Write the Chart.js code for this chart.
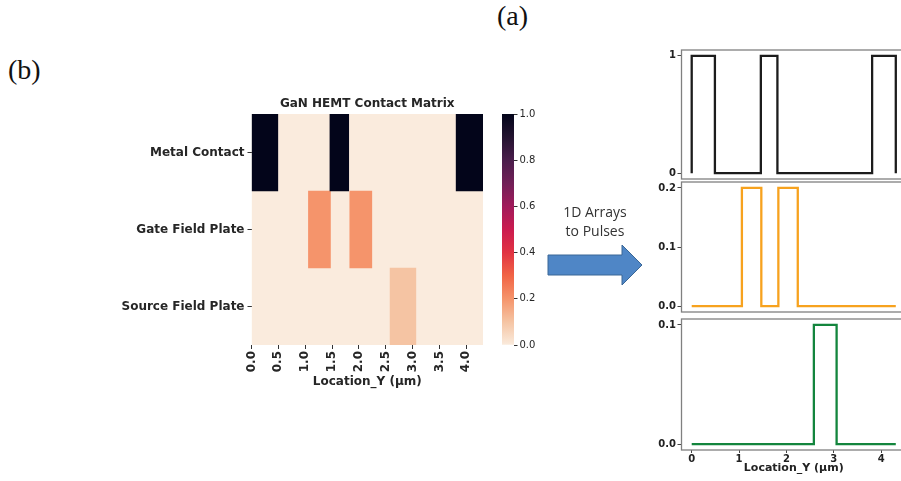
<!DOCTYPE html>
<html>
<head>
<meta charset="utf-8">
<script src="https://cdn.jsdelivr.net/npm/chart.js@4.4.0/dist/chart.umd.min.js"></script>
<style>
  body { margin: 0; background: #fff; }
  #fig { position: relative; width: 901px; height: 481px; overflow: hidden; background: #fff; }
  #fig canvas { position: absolute; }
  .panel { position: absolute; font-family: 'Liberation Serif', serif; font-size: 28px; line-height: 28px; color: #111; }
  #arrowText { position: absolute; left: 545px; top: 202px; width: 100px; text-align: center;
    font-family: 'Open Sans', sans-serif; font-size: 14px; line-height: 19px; color: #333; }
  #arrow { position: absolute; left: 0; top: 0; }
</style>
</head>
<body>
<div id="fig">
  <div class="panel" style="left:497px; top:2px">(a)</div>
  <div class="panel" style="left:8px; top:56px">(b)</div>
  <canvas id="heat" width="390" height="310" style="left:100px; top:85px"></canvas>
  <canvas id="cbar" width="42" height="251" style="left:502px; top:104px"></canvas>
  <svg id="arrow" width="901" height="481">
    <polygon points="548,255 622,255 622,245 642,265 622,285 622,275 548,275" fill="#4f86c6" stroke="#3a6796" stroke-width="1"/>
  </svg>
  <div id="arrowText">1D Arrays<br>to Pulses</div>
  <canvas id="p1" width="276" height="147" style="left:630px; top:40px"></canvas>
  <canvas id="p2" width="276" height="148" style="left:630px; top:172px"></canvas>
  <canvas id="p3" width="276" height="172" style="left:630px; top:309px"></canvas>
</div>
<script>
// rows of the contact matrix and their pulse level
const rowLabels = ['Metal Contact', 'Gate Field Plate', 'Source Field Plate'];
const rowValues = [1.0, 0.2, 0.1];

// where each layer is "on" along Location_Y (um)
const metalSpans = [[0, 0.49], [1.46, 1.81], [3.81, 4.31]];
const gateSpans = [[1.06, 1.47], [1.83, 2.24]];
const sourceSpans = [[2.58, 3.06]];
const lengthY = 4.31;

const heatTicksX = [0, 0.5, 1.0, 1.5, 2.0, 2.5, 3.0, 3.5, 4.0];
const colorbarTicks = [0, 0.2, 0.4, 0.6, 0.8, 1.0];
const pulseTicksX = [0, 1, 2, 3, 4];
const pulseTicksY = [[0, 1], [0, 0.1, 0.2], [0, 0.1]];
const pulseDecimals = [0, 1, 1];
const pulseColors = ['#1c1c1c', '#f7a21e', '#13853d'];

// rocket_r colormap (seaborn)
const rocketR = [
  [0.0, '#faebdd'], [0.1, '#f5c4a3'], [0.2, '#f5946b'], [0.3, '#f16445'],
  [0.4, '#e13342'], [0.5, '#cb1b4f'], [0.6, '#a11a5b'], [0.7, '#711f57'],
  [0.8, '#4a1d4b'], [0.9, '#231330'], [1.0, '#03051a']
];

function rocketColor(v) {
  for (let i = 1; i < rocketR.length; i++) {
    if (v <= rocketR[i][0]) {
      const [v0, c0] = rocketR[i - 1], [v1, c1] = rocketR[i];
      const t = (v - v0) / (v1 - v0);
      const a = parseInt(c0.slice(1), 16), b = parseInt(c1.slice(1), 16);
      const ch = s => Math.round(((a >> s) & 255) * (1 - t) + ((b >> s) & 255) * t);
      return `rgb(${ch(16)}, ${ch(8)}, ${ch(0)})`;
    }
  }
  return rocketR[rocketR.length - 1][1];
}

Chart.defaults.font.family = "'DejaVu Sans', sans-serif";
Chart.defaults.color = '#262626';
Chart.defaults.animation = false;
Chart.defaults.plugins.legend.display = false;
Chart.defaults.plugins.tooltip.enabled = false;

const bold12 = { size: 12, weight: 'bold' };
const layers = [metalSpans, gateSpans, sourceSpans];

// ---- heatmap ----
const heatSets = layers.map((spans, i) => ({
  data: spans.map(s => ({ y: rowLabels[i], x: s })),
  backgroundColor: rocketColor(rowValues[i])
}));
heatSets.push({
  data: rowLabels.map(r => ({ y: r, x: [0, lengthY] })),
  backgroundColor: rocketColor(0)
});
heatSets.forEach(d => Object.assign(d, { grouped: false, barPercentage: 1, categoryPercentage: 1, borderWidth: 0 }));

new Chart(document.getElementById('heat'), {
  type: 'bar',
  data: { labels: rowLabels, datasets: heatSets },
  options: {
    responsive: false,
    devicePixelRatio: 1,
    indexAxis: 'y',
    layout: { padding: { right: 7 } },
    plugins: {
      title: {
        display: true, text: 'GaN HEMT Contact Matrix', fullSize: false,
        font: bold12, color: '#262626', padding: { top: 12, bottom: 2.6 }
      }
    },
    scales: {
      y: {
        type: 'category',
        labels: rowLabels,
        grid: { offset: false, drawOnChartArea: false, tickLength: 4, color: '#333' },
        border: { display: false },
        ticks: { font: bold12, padding: 3, color: '#262626' },
        afterFit: s => { s.width = 151.5; }
      },
      x: {
        type: 'linear', min: 0, max: lengthY,
        grid: { drawOnChartArea: false, tickLength: 4, color: '#333' },
        border: { display: false },
        afterBuildTicks: s => { s.ticks = heatTicksX.map(v => ({ value: v })); },
        ticks: {
          font: bold12, padding: 2, minRotation: 90, maxRotation: 90, autoSkip: false,
          color: '#262626', callback: v => v.toFixed(1)
        },
        title: { display: true, text: 'Location_Y (μm)', font: bold12, color: '#262626', padding: { top: 0, bottom: 5.8 } },
        afterFit: s => { s.height = 50; }
      }
    }
  }
});

// ---- colorbar ----
new Chart(document.getElementById('cbar'), {
  type: 'bar',
  data: {
    labels: [''],
    datasets: [{
      data: [[0, 1]],
      barPercentage: 1, categoryPercentage: 1, borderWidth: 0,
      backgroundColor: c => {
        const area = c.chart.chartArea;
        if (!area) return rocketColor(0.5);
        const g = c.chart.ctx.createLinearGradient(0, area.bottom, 0, area.top);
        rocketR.forEach(([v, col]) => g.addColorStop(v, col));
        return g;
      }
    }]
  },
  options: {
    responsive: false,
    devicePixelRatio: 1,
    layout: { padding: { top: 10, bottom: 10 } },
    scales: {
      x: { display: false },
      y: {
        position: 'right', min: 0, max: 1,
        grid: { drawOnChartArea: false, tickLength: 3.5, color: '#333' },
        border: { display: false },
        afterBuildTicks: s => { s.ticks = colorbarTicks.map(v => ({ value: v })); },
        ticks: { font: { size: 10 }, padding: 2, color: '#262626', callback: v => v.toFixed(1) },
        afterFit: s => { s.width = 30; }
      }
    }
  }
});

// ---- pulses ----
function pulsePoints(spans, level) {
  const pts = [{ x: 0, y: 0 }];
  spans.forEach(([s, e]) => {
    pts.push({ x: s, y: 0 }, { x: s, y: level }, { x: e, y: level }, { x: e, y: 0 });
  });
  pts.push({ x: lengthY, y: 0 });
  return pts;
}

const frame = {
  id: 'frame',
  beforeDatasetsDraw(chart) {
    const { ctx, chartArea: a } = chart;
    ctx.save();
    ctx.strokeStyle = '#808080';
    ctx.lineWidth = 1.3;
    ctx.strokeRect(a.left, a.top, a.right - a.left, a.bottom - a.top);
    ctx.restore();
  }
};

const xPad = lengthY * 0.05;
['p1', 'p2', 'p3'].forEach((id, i) => {
  const level = rowValues[i];
  const last = i === 2;
  new Chart(document.getElementById(id), {
    type: 'line',
    data: {
      datasets: [{
        data: pulsePoints(layers[i], level),
        borderColor: pulseColors[i],
        borderWidth: 2.3,
        pointRadius: 0,
        tension: 0,
        fill: false
      }]
    },
    options: {
      responsive: false,
      devicePixelRatio: 1,
      layout: { padding: { top: 10, bottom: last ? 0 : 8, left: 0, right: 0 } },
      scales: {
        x: {
          type: 'linear', min: -xPad, max: lengthY + xPad,
          display: last,
          grid: { drawOnChartArea: false, tickLength: 3, color: '#444' },
          border: { display: false },
          afterBuildTicks: s => { s.ticks = pulseTicksX.map(v => ({ value: v })); },
          ticks: { font: { size: 10, weight: 'bold' }, padding: 0, color: '#222', callback: v => String(v) },
          title: { display: true, text: 'Location_Y (μm)', font: { size: 11, weight: 'bold' }, color: '#222', padding: { top: 0, bottom: 5.9 } },
          afterFit: s => { s.height = last ? 31 : 0; }
        },
        y: {
          type: 'linear', min: -level * 0.05, max: level * 1.05,
          grid: { drawOnChartArea: false, tickLength: 4, color: '#444' },
          border: { display: false },
          afterBuildTicks: s => { s.ticks = pulseTicksY[i].map(v => ({ value: v })); },
          ticks: { font: { size: 10, weight: 'bold' }, padding: 1.5, color: '#222', callback: v => v.toFixed(pulseDecimals[i]) },
          afterFit: s => { s.width = 51.5; }
        }
      }
    },
    plugins: [frame]
  });
});
</script>
</body>
</html>
